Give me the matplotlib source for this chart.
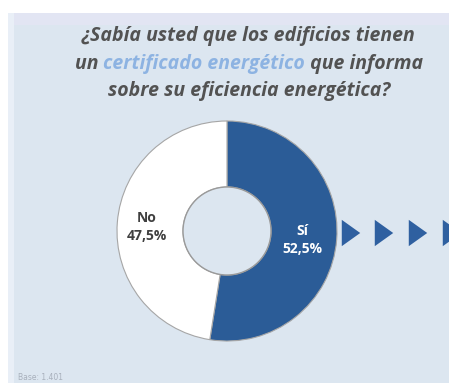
import matplotlib
matplotlib.use("Agg")
import matplotlib.pyplot as plt
from matplotlib.patches import Rectangle, Circle

# data
labels = ["Sí", "No"]
shares = [52.5, 47.5]
share_text = ["52,5%", "47,5%"]
slice_colors = ["#2b5c97", "#ffffff"]
title_lines = ["¿Sabía usted que los edificios tienen",
               None,
               "sobre su eficiencia energética?"]
title_mid = ["un ", "certificado energético", " que informa"]
arrow_x = [351, 384, 418, 452]
base_note = "Base: 1.401"

W, H = 449, 383
fig = plt.figure(figsize=(W / 100, H / 100), dpi=100, facecolor="white")
ax = fig.add_axes([0, 0, 1, 1])

bg = "#dce6f0"
# panel + stripes
ax.add_patch(Rectangle((8, 0), W - 8, H - 13, facecolor=bg, edgecolor="none", zorder=0))
ax.add_patch(Rectangle((8, 0), 6, H - 13, facecolor="#e9eff7", edgecolor="none", zorder=0.5))
ax.add_patch(Rectangle((14, H - 25), W - 14, 12, facecolor="#e2e5f3", edgecolor="none", zorder=0.5))

cx, cy = 227, H - 231
R, r = 110, 44
ax.pie(shares, colors=slice_colors, startangle=90, counterclock=False,
       center=(cx, cy), radius=R,
       wedgeprops=dict(width=R - r, edgecolor="#a6a6a6", linewidth=0.8))
ax.add_patch(Circle((cx, cy), r, facecolor=bg, edgecolor="#9a9a9a", linewidth=1.0, zorder=3))

lfont = dict(family=["Open Sans", "DejaVu Sans"], fontsize=10, fontweight="bold",
             ha="center", va="center", linespacing=1.45, zorder=4)
ax.text(302, H - 240, labels[0] + "\n" + share_text[0], color="white", **lfont)
ax.text(147, H - 227, labels[1] + "\n" + share_text[1], color="#404040", **lfont)

# arrows
tri = [(-0.35, -0.5), (0.35, 0.0), (-0.35, 0.5)]
ax.scatter(arrow_x, [H - 233] * len(arrow_x), marker=tri, s=360, color="#2f60a0",
           edgecolors="none", zorder=4, clip_on=False)

# title
tfont = dict(family=["Open Sans", "DejaVu Sans"], fontsize=14, fontweight="bold",
             style="italic", ha="center", va="center")
tcol = "#525252"
ax.text(249, H - 36, title_lines[0], color=tcol, **tfont)
ax.text(249, H - 91, title_lines[2], color=tcol, **tfont)

renderer = fig.canvas.get_renderer()
parts = []
for s, c in zip(title_mid, [tcol, "#8db3e2", tcol]):
    t = ax.text(0, H - 64, s, color=c, **{**tfont, "ha": "left"})
    parts.append(t)
widths = [t.get_window_extent(renderer).width for t in parts]
x0 = 249 - sum(widths) / 2
for t, w in zip(parts, widths):
    t.set_x(x0)
    x0 += w

ax.text(18, H - 377, base_note, color="#a8b0bc", fontsize=5.5, ha="left", va="center")

ax.set_xlim(0, W)
ax.set_ylim(0, H)
ax.set_aspect("auto")
ax.axis("off")
fig.savefig("out.png", dpi=100, facecolor="white")
